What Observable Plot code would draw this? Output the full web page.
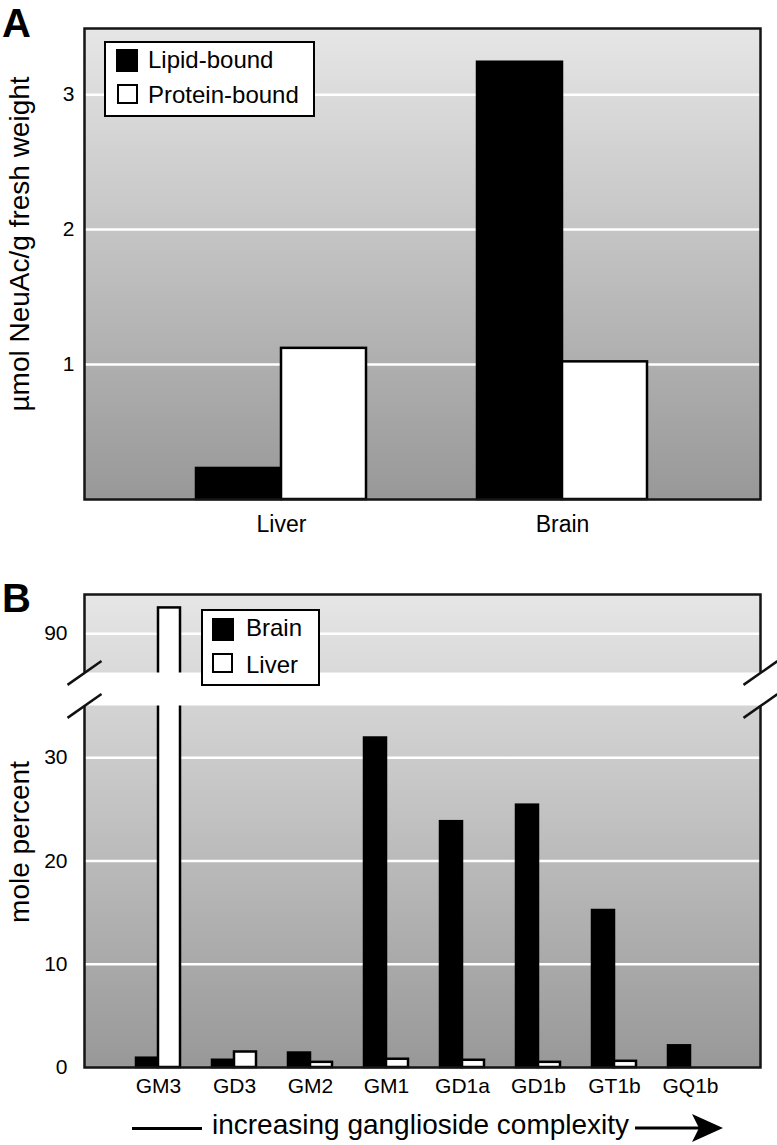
<!DOCTYPE html>
<html><head><meta charset="utf-8">
<script src="https://cdn.jsdelivr.net/npm/d3@7"></script>
<script src="https://cdn.jsdelivr.net/npm/@observablehq/plot@0.6"></script>
<style>
body{margin:0;background:#fff;}
#root{position:relative;width:777px;height:1145px;font-family:"Liberation Sans",Arial,Helvetica,sans-serif;color:#000;overflow:hidden}
.panel{position:absolute;left:0;width:777px}
.plabel{position:absolute;font-size:40px;line-height:40px;font-weight:bold}
.legend{position:absolute;box-sizing:border-box;border:2.5px solid #000;background:#fff}
.sw{position:absolute;box-sizing:border-box}
.lt{position:absolute;font-size:24px;line-height:24px;white-space:nowrap}
</style></head>
<body><div id="root">
<div id="panelA" class="panel" style="top:0;height:545px"></div>
<div id="panelB" class="panel" style="top:545px;height:560px"></div>
</div>
<script>
// ---------- Data ----------
// Panel A
const tissues = ["Liver", "Brain"];
const boundTypes = ["Lipid-bound", "Protein-bound"];
const lipidBound = [0.23, 3.24];
const proteinBound = [1.12, 1.02];
const yTicksA = [1, 2, 3];
const yLabelA = "µmol NeuAc/g fresh weight";
// Panel B
const gangliosides = ["GM3", "GD3", "GM2", "GM1", "GD1a", "GD1b", "GT1b", "GQ1b"];
const seriesB = ["Brain", "Liver"];
const brainPct = [0.9, 0.7, 1.4, 31.9, 23.8, 25.4, 15.2, 2.1];
const liverPct = [92.5, 1.5, 0.5, 0.8, 0.7, 0.5, 0.6, 0];
const yTicksB = [0, 10, 20, 30, 90];
const yGridB = [10, 20, 30, 90];
const yBreakB = [35, 86.2];
const yTopB = 93.8;
const yLabelB = "mole percent";
const captionB = "increasing ganglioside complexity";

// ---------- Helpers ----------
const W = 777;
const FONT = `"Liberation Sans", Arial, Helvetica, sans-serif`;
const svgStyle = (size) => `position:absolute;left:0;top:0;background:transparent;overflow:visible;font-family:${FONT};font-size:${size}px;color:#000;`;
function gradientDefs(id) {
  return () => {
    const defs = d3.create("svg:defs");
    const g = defs.append("linearGradient").attr("id", id)
      .attr("x1", 0).attr("y1", 0).attr("x2", 0).attr("y2", 1);
    g.append("stop").attr("offset", "0%").attr("stop-color", "#e6e6e6");
    g.append("stop").attr("offset", "100%").attr("stop-color", "#989898");
    return defs.node();
  };
}
function addLegend(container, labels, fills, box, items) {
  const lg = document.createElement("div");
  lg.className = "legend";
  Object.assign(lg.style, {left: box.left + "px", top: box.top + "px", width: box.width + "px", height: box.height + "px"});
  labels.forEach((lab, i) => {
    const it = items[i];
    const sw = document.createElement("div");
    sw.className = "sw";
    Object.assign(sw.style, {left: it.sx + "px", top: it.sy + "px", width: it.sw + "px", height: it.sh + "px",
      background: fills[i], border: fills[i] === "white" ? "2.5px solid #000" : "none"});
    lg.appendChild(sw);
    const t = document.createElement("div");
    t.className = "lt";
    t.textContent = lab;
    Object.assign(t.style, {left: it.tx + "px", top: it.ty + "px"});
    lg.appendChild(t);
  });
  container.appendChild(lg);
}
function addPanelLabel(text, top) {
  const d = document.createElement("div");
  d.className = "plabel";
  d.textContent = text;
  d.style.left = "2px";
  d.style.top = top + "px";
  document.getElementById("root").appendChild(d);
}

// ---------- Panel A ----------
{
  const dims = {width: W, height: 545, marginTop: 28, marginRight: 17, marginBottom: 46, marginLeft: 84};
  const yA = {domain: [0, 3.49], range: [dims.height - dims.marginBottom, dims.marginTop]};
  const dataA = tissues.flatMap((t, i) => [
    {tissue: t, type: boundTypes[0], value: lipidBound[i]},
    {tissue: t, type: boundTypes[1], value: proteinBound[i]}
  ]);
  const el = document.getElementById("panelA");
  const bg = Plot.plot({
    ...dims, style: svgStyle(21),
    x: {axis: null}, y: {...yA, axis: null},
    marks: [
      gradientDefs("gradA"),
      Plot.frame({fill: "url(#gradA)", stroke: "none"}),
      Plot.ruleY(yTicksA, {stroke: "white", strokeWidth: 2.5}),
      Plot.axisY(yTicksA, {tickSize: 0, tickPadding: 10, label: null, fontSize: 21, tickFormat: d => String(d)}),
      Plot.text([yLabelA], {text: d => d, frameAnchor: "left", textAnchor: "middle", rotate: -90, dx: -64, dy: -20, fontSize: 28})
    ]
  });
  const bars = Plot.plot({
    ...dims, style: svgStyle(23),
    fx: {domain: tissues, paddingInner: 0.394, paddingOuter: 0.396, axis: "bottom", label: null, tickSize: 0, tickPadding: 16},
    x: {domain: boundTypes, padding: 0, axis: null},
    y: {...yA, axis: null},
    color: {domain: boundTypes, range: ["black", "white"]},
    marks: [
      Plot.barY(dataA, {fx: "tissue", x: "type", y: "value", fill: "type", stroke: "black", strokeWidth: 2.5})
    ]
  });
  const fg = Plot.plot({
    ...dims, style: svgStyle(21),
    x: {axis: null}, y: {...yA, axis: null},
    marks: [Plot.frame({stroke: "#151515", strokeWidth: 2.5})]
  });
  el.append(bg, bars, fg);
  addLegend(el, boundTypes, ["black", "white"], {left: 104, top: 41, width: 211, height: 76}, [
    {sx: 10, sy: 6, sw: 22, sh: 23, tx: 42, ty: 4.7},
    {sx: 11, sy: 41, sw: 21, sh: 20, tx: 42, ty: 39.7}
  ]);
  addPanelLabel("A", 3);
}

// ---------- Panel B ----------
{
  const dims = {width: W, height: 560, marginTop: 49, marginRight: 17, marginBottom: 38, marginLeft: 84};
  const gapPx = 33;
  const bottom = dims.height - dims.marginBottom;
  const k = (bottom - dims.marginTop - gapPx) / ((yBreakB[0] - 0) + (yTopB - yBreakB[1]));
  const lowTop = bottom - yBreakB[0] * k;
  const yB = {
    type: "linear",
    domain: [0, yBreakB[0], yBreakB[1], yTopB],
    range: [bottom, lowTop, lowTop - gapPx, dims.marginTop]
  };
  const dataB = gangliosides.flatMap((g, i) => [
    {g, series: seriesB[0], value: brainPct[i]},
    {g, series: seriesB[1], value: liverPct[i]}
  ]);
  const slash = {
    draw(ctx, size) {
      const r = Math.sqrt(size / Math.PI);
      ctx.moveTo(-r, r * 0.7);
      ctx.lineTo(r, -r * 0.7);
    }
  };
  const el = document.getElementById("panelB");
  const bg = Plot.plot({
    ...dims, style: svgStyle(21),
    x: {axis: null}, y: {...yB, axis: null},
    marks: [
      gradientDefs("gradB"),
      Plot.frame({fill: "url(#gradB)", stroke: "none"}),
      Plot.ruleY(yGridB, {stroke: "white", strokeWidth: 2.5}),
      Plot.axisY(yTicksB, {tickSize: 0, tickPadding: 17, label: null, fontSize: 21, tickFormat: d => String(d)}),
      Plot.text([yLabelB], {text: d => d, frameAnchor: "left", textAnchor: "middle", rotate: -90, dx: -64, dy: 11, fontSize: 28})
    ]
  });
  const bars = Plot.plot({
    ...dims, style: svgStyle(21),
    fx: {domain: gangliosides, paddingInner: 0.425, paddingOuter: 0.63, align: 0.52, axis: "bottom", label: null, tickSize: 0, tickPadding: 11},
    x: {domain: seriesB, padding: 0, axis: null},
    y: {...yB, axis: null},
    color: {domain: seriesB, range: ["black", "white"]},
    marks: [
      Plot.barY(dataB, {fx: "g", x: "series", y: "value", fill: "series", stroke: "black", strokeWidth: 2.5})
    ]
  });
  const fg = Plot.plot({
    ...dims, style: svgStyle(21),
    x: {axis: null}, y: {...yB, axis: null},
    marks: [
      Plot.frame({stroke: "#151515", strokeWidth: 2.5}),
      Plot.barY([0], {y1: yBreakB[0], y2: yBreakB[1], fill: "white", insetLeft: -4, insetRight: -4}),
      Plot.dot(yBreakB, {y: d => d, frameAnchor: "left", symbol: slash, r: 17, fill: "none", stroke: "#111", strokeWidth: 2.5}),
      Plot.dot(yBreakB, {y: d => d, frameAnchor: "right", symbol: slash, r: 17, fill: "none", stroke: "#111", strokeWidth: 2.5})
    ]
  });
  el.append(bg, bars, fg);
  addLegend(el, seriesB, ["black", "white"], {left: 201, top: 64, width: 119, height: 77}, [
    {sx: 9, sy: 7, sw: 22, sh: 23, tx: 43, ty: 4.7},
    {sx: 9, sy: 42, sw: 21, sh: 20, tx: 43, ty: 41.7}
  ]);
  addPanelLabel("B", 578);

  // caption with arrow
  const root = document.getElementById("root");
  const cap = document.createElement("div");
  cap.textContent = captionB;
  Object.assign(cap.style, {position: "absolute", left: "212px", top: "1111px", fontSize: "28px", lineHeight: "28px", whiteSpace: "nowrap"});
  root.appendChild(cap);
  const bar = document.createElement("div");
  Object.assign(bar.style, {position: "absolute", left: "132px", top: "1127px", width: "70px", height: "3px", background: "#000"});
  root.appendChild(bar);
  const arrow = d3.create("svg").attr("width", 95).attr("height", 32)
    .style("position", "absolute").style("left", "632px").style("top", "1112px");
  arrow.append("line").attr("x1", 3).attr("y1", 16).attr("x2", 68).attr("y2", 16).attr("stroke", "#000").attr("stroke-width", 3);
  arrow.append("path").attr("d", "M60,2 L91,16 L60,30 L67,16 Z").attr("fill", "#000");
  root.appendChild(arrow.node());
}
</script>
</body></html>
